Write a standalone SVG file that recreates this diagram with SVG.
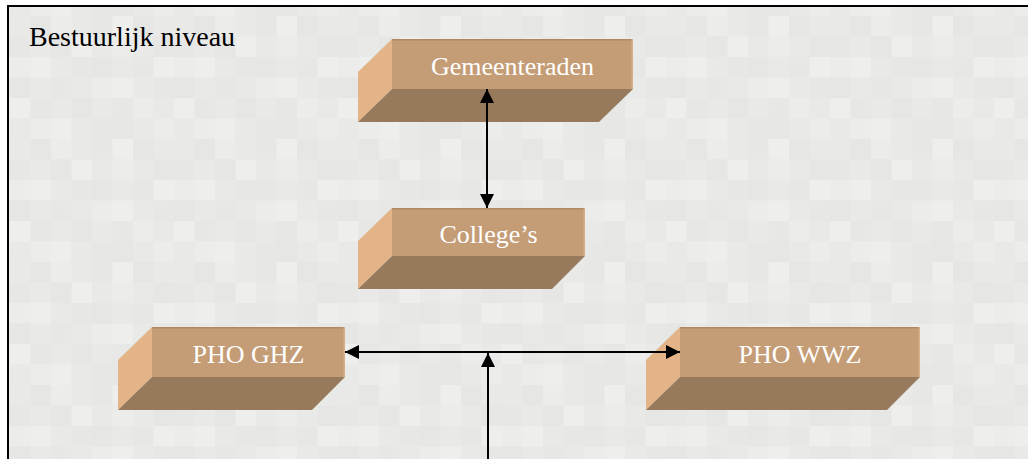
<svg xmlns="http://www.w3.org/2000/svg" width="1028" height="459" viewBox="0 0 1028 459">
  <style>
    .front { fill: #C49C76; }
    .edge { stroke: #B18862; stroke-width: 1.5; fill: none; }
    .redge { stroke: #D9AE86; stroke-width: 1.5; fill: none; }
    .side { fill: #E2B487; }
    .bottom { fill: #977A5B; }
    .blabel { font-family: "Liberation Serif", "Times New Roman", serif; font-size: 26px; fill: #FFFFFF; text-anchor: middle; }
    .title { font-family: "Liberation Serif", "Times New Roman", serif; font-size: 28px; fill: #000000; }
    .conn { stroke: #000000; stroke-width: 2; fill: none; }
    .m1 { fill: #E6E6E5; }
    .m2 { fill: #ECECEB; }
    .m3 { fill: #E7E7E6; }
    .m4 { fill: #EEEEED; }
  </style>
  <defs>
    <pattern id="mosaic" x="10" y="16" width="164" height="123" patternUnits="userSpaceOnUse">
      <rect width="164" height="123" fill="#E9E9E8"/>
      <g>
        <rect class="m1" x="20.5" y="0" width="20.5" height="20.5"/>
        <rect class="m2" x="41" y="0" width="20.5" height="20.5"/>
        <rect class="m3" x="82" y="0" width="20.5" height="20.5"/>
        <rect class="m4" x="102.5" y="0" width="20.5" height="20.5"/>
        <rect class="m1" x="123" y="0" width="20.5" height="20.5"/>
        <rect class="m3" x="0" y="20.5" width="20.5" height="20.5"/>
        <rect class="m1" x="41" y="20.5" width="20.5" height="20.5"/>
        <rect class="m4" x="61.5" y="20.5" width="20.5" height="20.5"/>
        <rect class="m2" x="102.5" y="20.5" width="20.5" height="20.5"/>
        <rect class="m1" x="143.5" y="20.5" width="20.5" height="20.5"/>
        <rect class="m2" x="0" y="41" width="20.5" height="20.5"/>
        <rect class="m4" x="20.5" y="41" width="20.5" height="20.5"/>
        <rect class="m3" x="61.5" y="41" width="20.5" height="20.5"/>
        <rect class="m1" x="82" y="41" width="20.5" height="20.5"/>
        <rect class="m3" x="123" y="41" width="20.5" height="20.5"/>
        <rect class="m4" x="143.5" y="41" width="20.5" height="20.5"/>
        <rect class="m1" x="0" y="61.5" width="20.5" height="20.5"/>
        <rect class="m3" x="41" y="61.5" width="20.5" height="20.5"/>
        <rect class="m2" x="82" y="61.5" width="20.5" height="20.5"/>
        <rect class="m4" x="102.5" y="61.5" width="20.5" height="20.5"/>
        <rect class="m3" x="143.5" y="61.5" width="20.5" height="20.5"/>
        <rect class="m4" x="0" y="82" width="20.5" height="20.5"/>
        <rect class="m3" x="20.5" y="82" width="20.5" height="20.5"/>
        <rect class="m1" x="61.5" y="82" width="20.5" height="20.5"/>
        <rect class="m3" x="102.5" y="82" width="20.5" height="20.5"/>
        <rect class="m2" x="123" y="82" width="20.5" height="20.5"/>
        <rect class="m2" x="20.5" y="102.5" width="20.5" height="20.5"/>
        <rect class="m4" x="41" y="102.5" width="20.5" height="20.5"/>
        <rect class="m3" x="82" y="102.5" width="20.5" height="20.5"/>
        <rect class="m1" x="102.5" y="102.5" width="20.5" height="20.5"/>
        <rect class="m2" x="143.5" y="102.5" width="20.5" height="20.5"/>
      </g>
    </pattern>
    <marker id="arrow" viewBox="0 0 14 14" refX="14" refY="7" markerWidth="14" markerHeight="14" markerUnits="userSpaceOnUse" orient="auto-start-reverse">
      <path d="M0,0 L14,7 L0,14 Z" fill="#000000"/>
    </marker>
  </defs>

  <rect x="0" y="0" width="1028" height="459" fill="#FFFFFF"/>
  <rect x="8" y="6" width="1020" height="453" fill="url(#mosaic)"/>
  <g id="frame">
    <line x1="7" y1="6" x2="1028" y2="6" stroke="#000000" stroke-width="2"/>
    <line x1="8" y1="5" x2="8" y2="459" stroke="#000000" stroke-width="2"/>
  </g>

  <text id="title" class="title" x="29" y="46">Bestuurlijk niveau</text>

  <g id="node-gemeenteraden">
    <polygon class="side" points="392,39 392,89 358,122 358,72"/>
    <polygon class="bottom" points="392,89 633,89 599,122 358,122"/>
    <rect class="front" x="392" y="39" width="241" height="50"/>
    <line class="edge" x1="392" y1="39.75" x2="633" y2="39.75"/>
    <line class="redge" x1="632.25" y1="39" x2="632.25" y2="89"/>
    <text class="blabel" x="512.5" y="75">Gemeenteraden</text>
  </g>

  <g id="node-colleges">
    <polygon class="side" points="392,208 392,256 358,289 358,241"/>
    <polygon class="bottom" points="392,256 585,256 552,289 358,289"/>
    <rect class="front" x="392" y="208" width="193" height="48"/>
    <line class="edge" x1="392" y1="208.75" x2="585" y2="208.75"/>
    <line class="redge" x1="584.25" y1="208" x2="584.25" y2="256"/>
    <text class="blabel" x="488.5" y="243">College’s</text>
  </g>

  <g id="node-pho-ghz">
    <polygon class="side" points="152,327 152,377 118,410 118,360"/>
    <polygon class="bottom" points="152,377 345,377 312,410 118,410"/>
    <rect class="front" x="152" y="327" width="193" height="50"/>
    <line class="edge" x1="152" y1="327.75" x2="345" y2="327.75"/>
    <line class="redge" x1="344.25" y1="327" x2="344.25" y2="377"/>
    <text class="blabel" x="248.5" y="363">PHO GHZ</text>
  </g>

  <g id="node-pho-wwz">
    <polygon class="side" points="680,327 680,377 646,410 646,360"/>
    <polygon class="bottom" points="680,377 920,377 887,410 646,410"/>
    <rect class="front" x="680" y="327" width="240" height="50"/>
    <line class="edge" x1="680" y1="327.75" x2="920" y2="327.75"/>
    <line class="redge" x1="919.25" y1="327" x2="919.25" y2="377"/>
    <text class="blabel" x="800" y="363">PHO WWZ</text>
  </g>

  <g id="connectors">
    <line class="conn" x1="487" y1="89" x2="487" y2="208" marker-start="url(#arrow)" marker-end="url(#arrow)"/>
    <line class="conn" x1="345" y1="352" x2="680" y2="352" marker-start="url(#arrow)" marker-end="url(#arrow)"/>
    <line class="conn" x1="488" y1="459" x2="488" y2="353" marker-end="url(#arrow)"/>
  </g>
</svg>
